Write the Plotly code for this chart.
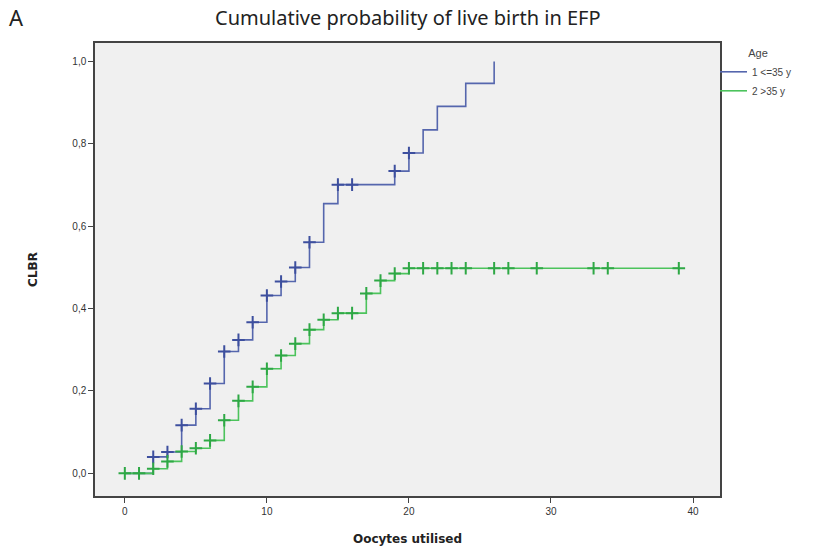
import plotly.graph_objects as go

# ---- data ----
# Age <= 35 y : event times (oocytes utilised) and cumulative probability after each step
young_x = [0, 2, 3, 4, 5, 6, 7, 8, 9, 10, 11, 12, 13, 14, 15, 19, 20, 21, 22, 24, 26]
young_y = [0.0, 0.040, 0.052, 0.117, 0.157, 0.218, 0.296, 0.324, 0.367, 0.432, 0.466,
           0.500, 0.561, 0.655, 0.701, 0.734, 0.778, 0.834, 0.891, 0.947, 1.0]
young_censor = [2, 3, 4, 5, 6, 7, 8, 9, 10, 11, 12, 13, 15, 16, 19, 20]

# Age > 35 y
old_x = [0, 2, 3, 4, 5, 6, 7, 8, 9, 10, 11, 12, 13, 14, 15, 17, 18, 19, 20, 39]
old_y = [0.0, 0.011, 0.029, 0.053, 0.061, 0.080, 0.129, 0.176, 0.210, 0.254, 0.286,
         0.315, 0.349, 0.373, 0.389, 0.437, 0.468, 0.485, 0.498, 0.498]
old_censor = [0, 1, 2, 3, 4, 5, 6, 7, 8, 9, 10, 11, 12, 13, 14, 15, 16, 17, 18, 19, 20,
              21, 22, 23, 24, 26, 27, 29, 33, 34, 39]

y_ticks = [0.0, 0.2, 0.4, 0.6, 0.8, 1.0]
y_ticktext = ["0,0", "0,2", "0,4", "0,6", "0,8", "1,0"]
x_ticks = [0, 10, 20, 30, 40]

series_names = ["1 <=35 y", "2 >35 y"]
line_colors = ["#5566ad", "#4cc35c"]
mark_colors = ["#3d4f9e", "#2ea845"]


def step_value(xs, ys, t):
    v = ys[0]
    for xi, yi in zip(xs, ys):
        if xi <= t:
            v = yi
    return v


fig = go.Figure()
for name, xs, ys, cens, lc, mc in [
    (series_names[0], young_x, young_y, young_censor, line_colors[0], mark_colors[0]),
    (series_names[1], old_x, old_y, old_censor, line_colors[1], mark_colors[1]),
]:
    fig.add_trace(go.Scatter(
        x=xs, y=ys, mode="lines", line=dict(color=lc, width=1.6, shape="hv"),
        name=name, showlegend=True))
    fig.add_trace(go.Scatter(
        x=cens, y=[step_value(xs, ys, c) for c in cens], mode="markers",
        marker=dict(symbol="cross-thin-open", size=9, color=mc, line=dict(color=mc, width=2)),
        showlegend=False, hoverinfo="skip"))

fig.update_layout(
    width=821, height=551,
    margin=dict(l=95, r=101, t=43, b=55),
    paper_bgcolor="white",
    plot_bgcolor="#f0f0f0",
    font=dict(family="Liberation Sans, Arial, sans-serif", size=10, color="#333"),
    legend=dict(
        title=dict(text="Age", font=dict(size=11, color="#444"), side="top center"),
        x=1.0, xanchor="left", y=1.0, yanchor="top",
        bgcolor="rgba(0,0,0,0)", font=dict(size=10, color="#444"),
        itemwidth=30, tracegroupgap=0, indentation=-8,
    ),
    showlegend=True,
)

fig.update_xaxes(
    range=[-2.1, 41.9], tickvals=x_ticks, ticks="outside", ticklen=5, tickcolor="#444",
    showgrid=False, zeroline=False, showline=True, linecolor="#444", linewidth=1.5,
    mirror=True, tickfont=dict(size=10, color="#333"), automargin=False,
    title=dict(text="<b>Oocytes utilised</b>", font=dict(family="DejaVu Sans, Verdana, sans-serif", size=12, color="#222"), standoff=19),
)
fig.update_yaxes(
    range=[-0.055, 1.045], tickvals=y_ticks, ticktext=y_ticktext, ticks="outside", ticklen=5,
    tickcolor="#444", showgrid=False, zeroline=False, showline=True, linecolor="#444",
    linewidth=1.5, mirror=True, tickfont=dict(size=10, color="#333"), automargin=False,
    title=dict(text="<b>CLBR</b>", font=dict(family="DejaVu Sans, Verdana, sans-serif", size=12, color="#222"), standoff=32),
)

fig.add_annotation(text="Cumulative probability of live birth in EFP", xref="paper", yref="paper",
                   x=0.5, y=1.0, yanchor="middle", yshift=26, showarrow=False,
                   font=dict(family="Noto Sans, Open Sans, sans-serif", size=20, color="#222"))
fig.add_annotation(text="A", xref="paper", yref="paper", x=-0.125, y=1.0, yanchor="middle",
                   yshift=26, xanchor="center", showarrow=False,
                   font=dict(family="Noto Sans, Open Sans, sans-serif", size=22, color="#222"))

fig.write_html("out.html")
